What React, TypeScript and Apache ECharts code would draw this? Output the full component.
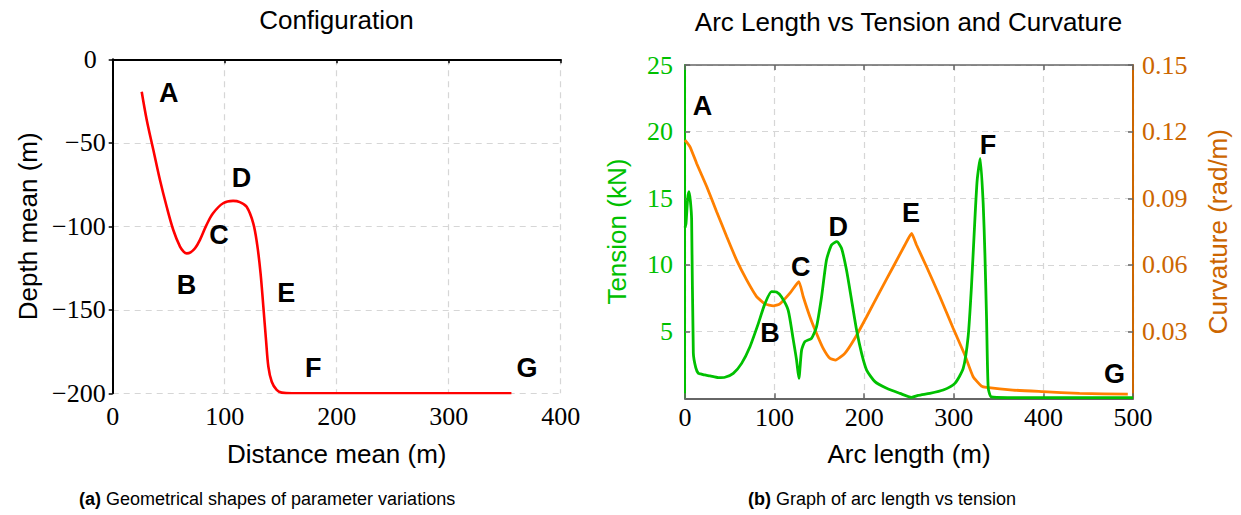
import React, { useEffect, useRef } from "react";
import * as echarts from "echarts";

// ---------- Data: (a) Configuration ----------
const configDistance = [25.9, 30.4, 36.3, 42.2, 48.2, 54.1, 60.1, 63.5, 66.1, 69.5, 73.5, 77.9, 83.7, 89.6, 98.6, 107.5, 113.5, 119.6, 125.5, 129, 132, 134.5, 136.9, 139, 142, 146.4, 150.9, 160, 200, 250, 300, 356];
const configDepth = [-19.4, -36.3, -54.3, -72.3, -88.3, -102.2, -112.2, -115.3, -116.2, -115.6, -113.2, -108.1, -99.3, -92.2, -86.2, -84.8, -85.5, -88.3, -98.2, -111, -128, -148.1, -168.1, -184.1, -193.1, -198, -199.6, -200, -200, -200, -200, -200];
const configLetters = ["A", "B", "C", "D", "E", "F", "G"];
const configLetterX = [50, 66, 95, 115, 155, 179, 370];
const configLetterY = [-20, -135, -105, -71, -140, -185, -185];
const configXTicks = [0, 100, 200, 300, 400];
const configYTicks = [-200, -150, -100, -50, 0];

// ---------- Data: (b) Arc length vs tension & curvature ----------
const tensionArc = [0, 1.1, 3, 4.5, 6, 7.4, 9.3, 12, 14.9, 17.6, 22, 27.9, 37.2, 44.6, 53.9, 63.2, 72.5, 81.8, 89.2, 96.6, 102.2, 107.8, 115.2, 120.8, 124.5, 127.1, 130.1, 133.8, 141.2, 146.8, 152.4, 157.9, 163.5, 169.5, 174.7, 180.3, 185.9, 191.5, 197.1, 202.7, 212, 225, 239.9, 252.9, 260.3, 273.3, 288.2, 301.2, 310.5, 316, 319.7, 323.5, 326.1, 329.5, 332.8, 334.7, 336.6, 338.4, 341.9, 360, 400, 450, 500];
const tensionKN = [12.8, 13.1, 15, 15.5, 14.8, 13.4, 3.4, 2.3, 1.87, 1.83, 1.75, 1.68, 1.55, 1.58, 1.87, 2.62, 3.87, 5.6, 7.1, 8.0, 7.97, 7.6, 6.6, 4.4, 2.87, 1.5, 3.6, 4.25, 4.5, 5.37, 7.6, 10.37, 11.5, 11.75, 11.25, 9.6, 7.37, 5.12, 3.37, 2.12, 1.25, 0.75, 0.37, 0.07, 0.22, 0.37, 0.62, 1.12, 2.24, 4.62, 8.37, 13.37, 16.37, 18.0, 14.6, 10.87, 5.87, 0.8, 0.1, 0.05, 0.05, 0.05, 0.05];
const curvArc = [0, 5.6, 13, 24.2, 35.3, 46.5, 57.6, 68.8, 79.9, 89.2, 98.5, 105.9, 117.1, 127.1, 131.9, 139.4, 146.8, 154.2, 161.7, 168, 178.4, 189.6, 202.7, 217.5, 232.4, 245.4, 252.9, 258.4, 269.6, 284.5, 299.3, 312.3, 321.6, 330.9, 336.5, 366, 399.4, 440.3, 494.2];
const curvature = [0.1162, 0.1132, 0.1057, 0.0953, 0.084, 0.0728, 0.0622, 0.0533, 0.0458, 0.0425, 0.0416, 0.0425, 0.0473, 0.0525, 0.0458, 0.0367, 0.0292, 0.0225, 0.018, 0.0172, 0.0202, 0.027, 0.0367, 0.048, 0.0592, 0.069, 0.0742, 0.069, 0.0592, 0.0457, 0.0315, 0.0195, 0.0097, 0.0055, 0.0049, 0.0037, 0.003, 0.0022, 0.0019];
const arcLetters = ["A", "B", "C", "D", "E", "F", "G"];
const arcLetterX = [19.5, 94.8, 129.3, 170.9, 252.2, 338.2, 479.4];
const arcLetterY = [21.9, 4.87, 9.87, 12.87, 13.9, 19.0, 1.8];
const arcXTicks = [0, 100, 200, 300, 400, 500];
const tensionTicks = [0, 5, 10, 15, 20, 25];
const curvTicks = [0, 0.03, 0.06, 0.09, 0.12, 0.15];

const SANS = "Liberation Sans, Arial, Helvetica, sans-serif";
const SERIF = "Liberation Serif, Times New Roman, serif";
const GREEN = "#00c000";
const ORANGE = "#ff8000";
const CURV_AXIS = "#cc6600";
const GRID_LINE = { color: "#d6d6d6", type: [6, 5] as any, width: 1.2 };

const zip = (xs: number[], ys: number[]) => xs.map((x, i) => [x, ys[i]]);
const depthLabel = (v: number) => (v === 0 ? "{z|0}" : v < 0 ? "\u2212" + Math.abs(v) : String(v));

export default function App() {
  const ref = useRef<HTMLDivElement>(null);
  useEffect(() => {
    if (!ref.current) return;
    const chart = echarts.init(ref.current, undefined, { renderer: "svg" });
    const letterLabel = {
      show: true,
      position: "inside",
      formatter: "{b}",
      fontFamily: SANS,
      fontSize: 27,
      fontWeight: "bold",
      color: "#000",
      opacity: 1,
      textBorderWidth: 0,
    };
    const option: any = {
      animation: false,
      backgroundColor: "#fff",
      graphic: [
        { type: "text", x: 336.5, y: 20, style: { text: "Configuration", fontFamily: SANS, fontSize: 26, fill: "#000", textAlign: "center", textVerticalAlign: "middle" } },
        { type: "text", x: 908.5, y: 22, style: { text: "Arc Length vs Tension and Curvature", fontFamily: SANS, fontSize: 26, fill: "#000", textAlign: "center", textVerticalAlign: "middle" } },
        { type: "text", x: 79, y: 499, style: { text: "{b|(a)} Geometrical shapes of parameter variations", fontFamily: SANS, fontSize: 18, fill: "#000", textAlign: "left", textVerticalAlign: "middle", rich: { b: { fontWeight: "bold", fontFamily: SANS, fontSize: 18 } } } },
        { type: "text", x: 748, y: 499, style: { text: "{b|(b)} Graph of arc length vs tension", fontFamily: SANS, fontSize: 18, fill: "#000", textAlign: "left", textVerticalAlign: "middle", rich: { b: { fontWeight: "bold", fontFamily: SANS, fontSize: 18 } } } },
      ],
      grid: [
        { left: 112.7, top: 59.3, width: 448, height: 334 },
        { left: 685, top: 65, width: 448, height: 333.3 },
      ],
      xAxis: [
        {
          gridIndex: 0, type: "value", min: configXTicks[0], max: configXTicks[configXTicks.length - 1], interval: 100,
          axisLine: { show: true, lineStyle: { color: "#000", width: 2 } },
          axisTick: { show: true, length: 4, lineStyle: { color: "#000", width: 1.5 } },
          axisLabel: { fontFamily: SERIF, fontSize: 26, color: "#000", margin: 10 },
          splitLine: { show: true, lineStyle: GRID_LINE },
          name: "Distance mean (m)", nameLocation: "middle", nameGap: 48,
          nameTextStyle: { fontFamily: SANS, fontSize: 26, color: "#000" },
        },
        {
          gridIndex: 1, type: "value", min: arcXTicks[0], max: arcXTicks[arcXTicks.length - 1], interval: 100,
          axisLine: { show: true, lineStyle: { color: "#666", width: 2 } },
          axisTick: { show: true, inside: true, length: 5, lineStyle: { color: "#666", width: 1.5 } },
          axisLabel: { fontFamily: SERIF, fontSize: 26, color: "#000", margin: 6 },
          splitLine: { show: true, lineStyle: GRID_LINE },
          name: "Arc length (m)", nameLocation: "middle", nameGap: 43,
          nameTextStyle: { fontFamily: SANS, fontSize: 26, color: "#000" },
        },
        {
          gridIndex: 1, type: "value", position: "top", min: 0, max: 500, interval: 100,
          axisLine: { show: true, onZero: false, lineStyle: { color: "#666", width: 1.5 } },
          axisTick: { show: true, inside: true, length: 5, lineStyle: { color: "#666", width: 1.5 } },
          axisLabel: { show: false },
          splitLine: { show: false },
        },
      ],
      yAxis: [
        {
          gridIndex: 0, type: "value", min: configYTicks[0], max: configYTicks[configYTicks.length - 1], interval: 50,
          axisLine: { show: true, onZero: false, lineStyle: { color: "#000", width: 2 } },
          axisTick: { show: true, length: 4, lineStyle: { color: "#000", width: 1.5 } },
          axisLabel: {
            fontFamily: SERIF, fontSize: 26, color: "#000", margin: 7, formatter: depthLabel,
            rich: { z: { fontFamily: SERIF, fontSize: 26, color: "#000", padding: [0, 9, 0, 0] } },
          },
          splitLine: { show: true, lineStyle: GRID_LINE },
          name: "Depth mean (m)", nameLocation: "middle", nameGap: 72, nameRotate: 90,
          nameTextStyle: { fontFamily: SANS, fontSize: 26, color: "#000" },
        },
        {
          gridIndex: 1, type: "value", position: "left", min: tensionTicks[0], max: tensionTicks[tensionTicks.length - 1], interval: 5,
          axisLine: { show: true, onZero: false, lineStyle: { color: GREEN, width: 2 } },
          axisTick: { show: true, inside: true, length: 5, lineStyle: { color: "#666", width: 1.5 } },
          axisLabel: { fontFamily: SERIF, fontSize: 26, color: GREEN, margin: 12, formatter: (v: number) => (v === 0 ? "" : String(v)) },
          splitLine: { show: true, lineStyle: GRID_LINE },
          name: "Tension (kN)", nameLocation: "middle", nameGap: 55, nameRotate: 90,
          nameTextStyle: { fontFamily: SANS, fontSize: 26, color: GREEN },
        },
        {
          gridIndex: 1, type: "value", position: "right", min: curvTicks[0], max: curvTicks[curvTicks.length - 1], interval: 0.03,
          axisLine: { show: true, onZero: false, lineStyle: { color: CURV_AXIS, width: 2 } },
          axisTick: { show: true, inside: true, length: 5, lineStyle: { color: "#666", width: 1.5 } },
          axisLabel: { fontFamily: SERIF, fontSize: 26, color: CURV_AXIS, margin: 9, formatter: (v: number) => (v === 0 ? "" : v.toFixed(2)) },
          splitLine: { show: false },
          name: "Curvature (rad/m)", nameLocation: "middle", nameGap: 72, nameRotate: 90,
          nameTextStyle: { fontFamily: SANS, fontSize: 26, color: CURV_AXIS },
        },
      ],
      series: [
        {
          type: "line", xAxisIndex: 0, yAxisIndex: 0, data: zip(configDistance, configDepth),
          showSymbol: false, smooth: 0.35, lineStyle: { color: "#ff0000", width: 2.6 }, silent: true,
        },
        {
          type: "scatter", xAxisIndex: 0, yAxisIndex: 0, symbolSize: 0, itemStyle: { color: "#000" },
          data: configLetters.map((n, i) => ({ name: n, value: [configLetterX[i], configLetterY[i]] })),
          label: letterLabel, silent: true,
        },
        {
          type: "line", xAxisIndex: 1, yAxisIndex: 2, data: zip(curvArc, curvature),
          showSymbol: false, smooth: 0.15, lineStyle: { color: ORANGE, width: 2.8 }, silent: true,
        },
        {
          type: "line", xAxisIndex: 1, yAxisIndex: 1, data: zip(tensionArc, tensionKN),
          showSymbol: false, smooth: 0.2, lineStyle: { color: GREEN, width: 2.8 }, silent: true,
        },
        {
          type: "scatter", xAxisIndex: 1, yAxisIndex: 1, symbolSize: 0, itemStyle: { color: "#000" },
          data: arcLetters.map((n, i) => ({ name: n, value: [arcLetterX[i], arcLetterY[i]] })),
          label: letterLabel, silent: true,
        },
      ],
    };
    chart.setOption(option);
    return () => chart.dispose();
  }, []);
  return (
    <div
      ref={ref}
      style={{ position: "fixed", left: 0, top: 0, width: 1241, height: 515, background: "#fff" }}
    />
  );
}
